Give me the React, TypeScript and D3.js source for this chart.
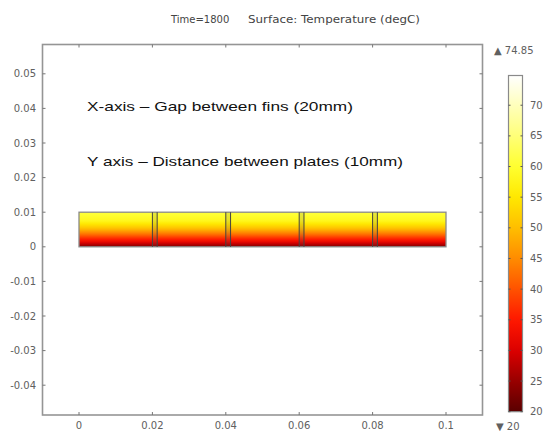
import React from "react";
import * as d3 from "d3";

// ---- data ----
const title1 = "Time=1800";
const title2 = "Surface: Temperature (degC)";
const xTicks = [0, 0.02, 0.04, 0.06, 0.08, 0.1];
const yTicks = [0.05, 0.04, 0.03, 0.02, 0.01, 0, -0.01, -0.02, -0.03, -0.04];
const xTickLabels = ["0", "0.02", "0.04", "0.06", "0.08", "0.1"];
const yTickLabels = ["0.05", "0.04", "0.03", "0.02", "0.01", "0", "-0.01", "-0.02", "-0.03", "-0.04"];
// plate domain
const plateX = [0, 0.1];
const plateY = [0, 0.01];
// fins (x start, x end)
const finStarts = [0.02, 0.04, 0.06, 0.08];
const finWidth = 0.0013;
// temperature profile through the plate height (fraction from top, temp)
const profileFrac = [0, 0.25, 0.45, 0.65, 0.85, 1.0];
const profileTemp = [61, 58, 51, 42, 32, 23];
// colour bar
const tempMin = 20;
const tempMax = 74.85;
const cbTicks = [20, 25, 30, 35, 40, 45, 50, 55, 60, 65, 70];
const cmapTemps = [20, 25, 30, 35, 40, 45, 50, 55, 60, 65, 70, 74.85];
const cmapColors = ["#5a0000", "#980000", "#dc0000", "#ff1800", "#ff5200", "#ff8c00", "#ffbe00", "#ffe800", "#ffff30", "#ffff78", "#ffffbc", "#ffffff"];
const annotations = ["X-axis \u2013 Gap between fins (20mm)", "Y axis \u2013 Distance between plates (10mm)"];

export default function App() {
  const W = 547, H = 432;
  const x = d3.scaleLinear().domain([0, 0.1]).range([79, 446]);
  const y = d3.scaleLinear().domain([0, 0.05]).range([246.8, 73.8]);
  const frame = { l: 42.5, t: 44.5, r: 482.5, b: 415 };
  const cmap = d3.scaleLinear<string>().domain(cmapTemps).range(cmapColors).interpolate(d3.interpolateRgb).clamp(true);
  const cb = d3.scaleLinear().domain([tempMin, tempMax]).range([411.7, 75.5]);
  const cbX0 = 508.5, cbX1 = 522.5;
  const grey = "#606060";
  const axisCol = "#959595";
  const font = "'DejaVu Sans', sans-serif";
  const cbStops = d3.range(0, 1.0001, 0.02).map((f) => tempMin + f * (tempMax - tempMin));
  const profStops = d3.range(0, 1.0001, 0.05).map((f) => ({ f, t: d3.scaleLinear().domain(profileFrac).range(profileTemp)(f) }));

  return (
    <svg width={W} height={H} style={{ position: "absolute", left: 0, top: 0, background: "#fff" }}>
      <defs>
        <linearGradient id="plateGrad" x1="0" y1="0" x2="0" y2="1">
          {profStops.map((s, i) => (
            <stop key={i} offset={s.f} stopColor={cmap(s.t)} />
          ))}
        </linearGradient>
        <linearGradient id="cbGrad" x1="0" y1="1" x2="0" y2="0">
          {cbStops.map((t, i) => (
            <stop key={i} offset={(t - tempMin) / (tempMax - tempMin)} stopColor={cmap(t)} />
          ))}
        </linearGradient>
      </defs>

      {/* title */}
      <text x={171} y={23} fontFamily={font} fontSize={10} fill="#444">{title1}</text>
      <text x={248} y={23} fontFamily={font} fontSize={10} fill="#444" textLength={172} lengthAdjust="spacingAndGlyphs">{title2}</text>

      {/* frame */}
      <rect x={frame.l} y={frame.t} width={frame.r - frame.l} height={frame.b - frame.t} fill="none" stroke={axisCol} strokeWidth={1.6} />

      {/* x ticks */}
      {xTicks.map((v, i) => (
        <g key={"xt" + i}>
          <line x1={x(v)} x2={x(v)} y1={frame.b} y2={frame.b - 3} stroke="#777" strokeWidth={1} />
          <line x1={x(v)} x2={x(v)} y1={frame.t} y2={frame.t + 3} stroke="#777" strokeWidth={1} />
          <text x={x(v)} y={429} textAnchor="middle" fontFamily={font} fontSize={10} fill={grey}>{xTickLabels[i]}</text>
        </g>
      ))}
      {/* y ticks */}
      {yTicks.map((v, i) => (
        <g key={"yt" + i}>
          <line x1={frame.l} x2={frame.l + 3} y1={y(v)} y2={y(v)} stroke="#777" strokeWidth={1} />
          <line x1={frame.r} x2={frame.r - 3} y1={y(v)} y2={y(v)} stroke="#777" strokeWidth={1} />
          <text x={36} y={y(v)} dy="0.35em" textAnchor="end" fontFamily={font} fontSize={10} fill={grey}>{yTickLabels[i]}</text>
        </g>
      ))}

      {/* plate */}
      <rect
        x={x(plateX[0])}
        y={y(plateY[1])}
        width={x(plateX[1]) - x(plateX[0])}
        height={y(plateY[0]) - y(plateY[1])}
        fill="url(#plateGrad)"
        stroke="#8a8a8a"
        strokeWidth={1.3}
      />
      {finStarts.map((s, i) => (
        <g key={"fin" + i}>
          <rect x={x(s)} y={y(plateY[1])} width={x(s + finWidth) - x(s)} height={y(plateY[0]) - y(plateY[1])} fill="#555" fillOpacity={0.15} />
          <line x1={x(s)} x2={x(s)} y1={y(plateY[1])} y2={y(plateY[0])} stroke="#444" strokeWidth={1} />
          <line x1={x(s + finWidth)} x2={x(s + finWidth)} y1={y(plateY[1])} y2={y(plateY[0])} stroke="#444" strokeWidth={1} />
        </g>
      ))}

      {/* annotations */}
      <text x={87} y={111} fontFamily="'Liberation Sans', sans-serif" fontSize={13} fill="#111" textLength={266} lengthAdjust="spacingAndGlyphs">{annotations[0]}</text>
      <text x={87} y={166} fontFamily="'Liberation Sans', sans-serif" fontSize={13} fill="#111" textLength={316} lengthAdjust="spacingAndGlyphs">{annotations[1]}</text>

      {/* colour bar */}
      <rect x={cbX0} y={cb(tempMax)} width={cbX1 - cbX0} height={cb(tempMin) - cb(tempMax)} fill="url(#cbGrad)" stroke="#8a8a8a" strokeWidth={1.2} />
      {cbTicks.map((t, i) => (
        <g key={"cb" + i}>
          <line x1={cbX0} x2={cbX0 + 2} y1={cb(t)} y2={cb(t)} stroke="#555" strokeWidth={1} />
          <line x1={cbX1} x2={cbX1 - 2} y1={cb(t)} y2={cb(t)} stroke="#555" strokeWidth={1} />
          <text x={530} y={cb(t)} dy="0.35em" fontFamily={font} fontSize={10} fill={grey}>{String(t)}</text>
        </g>
      ))}
      <text x={494} y={50} dy="0.35em" fontFamily={font} fontSize={10} fill={grey}>{"\u25B2 " + tempMax}</text>
      <text x={496} y={426.5} dy="0.35em" fontFamily={font} fontSize={10} fill={grey}>{"\u25BC " + tempMin}</text>
    </svg>
  );
}
